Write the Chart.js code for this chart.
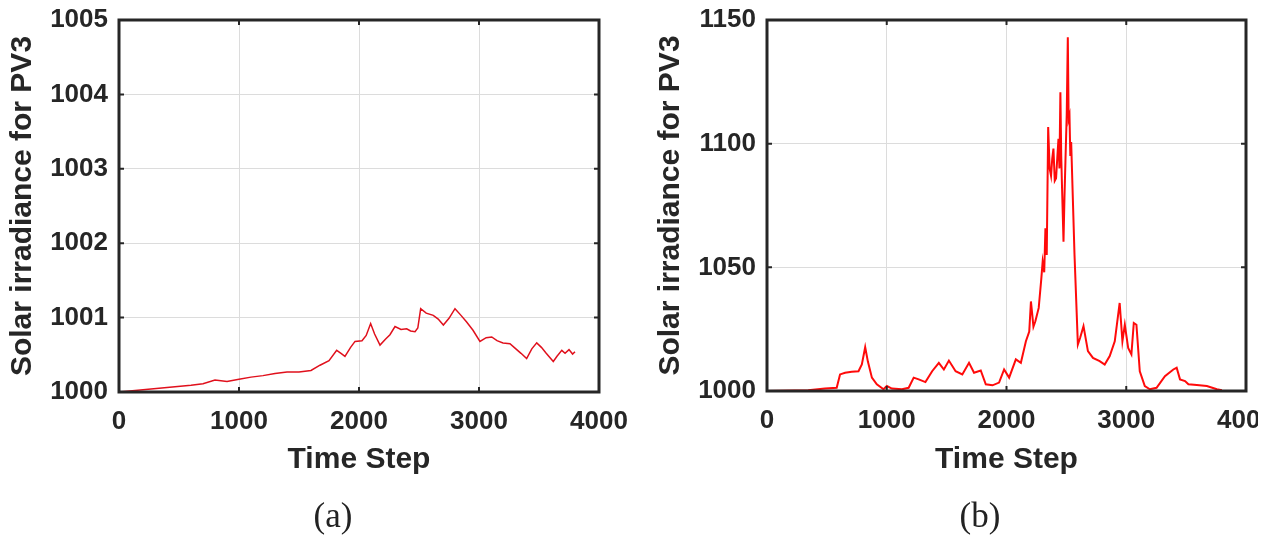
<!DOCTYPE html>
<html>
<head>
<meta charset="utf-8">
<script src="https://cdn.jsdelivr.net/npm/chart.js@4.4.0/dist/chart.umd.min.js"></script>
<style>
  html, body { margin:0; padding:0; background:#fff; }
  body { width:1279px; height:541px; position:relative; overflow:hidden; }
  .panel { position:absolute; top:0; height:541px; overflow:hidden; }
  #panelA { left:0; width:640px; }
  #panelB { left:640px; width:618px; }
  .panel canvas { position:absolute; left:0; top:0; }
  .caption {
    position:absolute; top:498px; line-height:35px;
    font-family:"Liberation Serif", "DejaVu Serif", serif; font-size:35px; color:#222;
    transform:translateX(-50%);
  }
</style>
</head>
<body>
<div class="panel" id="panelA"><canvas id="chartA" width="640" height="541"></canvas></div>
<div class="panel" id="panelB"><canvas id="chartB" width="680" height="541"></canvas></div>
<div class="caption" style="left:333px">(a)</div>
<div class="caption" style="left:980px">(b)</div>

<script>
// ---- data -------------------------------------------------------------
const xTicks  = [0, 1000, 2000, 3000, 4000];
const yTicksA = [1000, 1001, 1002, 1003, 1004, 1005];
const yTicksB = [1000, 1050, 1100, 1150];

// (a) slow drift of irradiance
const timeA = [0, 200, 400, 600, 700, 800, 900, 1000, 1100, 1200, 1300, 1400, 1500, 1600,
  1675, 1750, 1814, 1850, 1883, 1930, 1967, 2025, 2060, 2097, 2130, 2175, 2220, 2258, 2300,
  2350, 2397, 2430, 2467, 2490, 2514, 2560, 2619, 2660, 2703, 2750, 2800, 2850, 2897, 2950,
  3008, 3060, 3106, 3150, 3200, 3258, 3300, 3350, 3397, 3440, 3481, 3520, 3560, 3619, 3650,
  3690, 3717, 3750, 3780, 3800];
const irrA = [1000.00, 1000.03, 1000.06, 1000.09, 1000.11, 1000.16, 1000.14, 1000.17, 1000.20,
  1000.22, 1000.25, 1000.27, 1000.27, 1000.29, 1000.36, 1000.42, 1000.56, 1000.52, 1000.48,
  1000.60, 1000.68, 1000.69, 1000.76, 1000.92, 1000.78, 1000.63, 1000.71, 1000.77, 1000.88,
  1000.84, 1000.85, 1000.82, 1000.81, 1000.86, 1001.12, 1001.06, 1001.03, 1000.98, 1000.90,
  1000.99, 1001.12, 1001.03, 1000.94, 1000.83, 1000.68, 1000.73, 1000.74, 1000.69, 1000.66,
  1000.65, 1000.59, 1000.52, 1000.45, 1000.58, 1000.66, 1000.60, 1000.52, 1000.41, 1000.48,
  1000.56, 1000.52, 1000.57, 1000.51, 1000.54];

// (b) irradiance with a burst around step 2500
const timeB = [0, 344, 484, 582, 610, 652, 708, 764, 792, 820,
  842, 876, 917, 973, 1001, 1043, 1127, 1183, 1225, 1267,
  1323, 1379, 1435, 1477, 1519, 1575, 1631, 1687, 1729, 1785,
  1827, 1883, 1938, 1980, 2022, 2078, 2120, 2162, 2190, 2204,
  2225, 2241, 2269, 2290, 2302, 2315, 2325, 2336, 2348, 2360,
  2372, 2382, 2392, 2403, 2414, 2425, 2434, 2442, 2450, 2457,
  2464, 2476, 2484, 2492, 2503, 2512, 2519, 2526, 2533, 2540,
  2568, 2596, 2615, 2643, 2680, 2722, 2778, 2820, 2862, 2904,
  2945, 2968, 2988, 3016, 3043, 3063, 3085, 3113, 3155, 3197,
  3253, 3323, 3393, 3421, 3449, 3491, 3519, 3589, 3673, 3757, 3799];
const irrB = [1000, 1000.3, 1001, 1001.3, 1006.7, 1007.4, 1007.8, 1008, 1010.7, 1017.7,
  1012, 1005.4, 1002.7, 1000.7, 1002, 1001, 1000.7, 1001.3, 1005.4, 1004.7,
  1003.6, 1008, 1011.4, 1008.7, 1012.3, 1008, 1006.7, 1011.4, 1007.4, 1008.3,
  1002.7, 1002.3, 1003.4, 1008.7, 1005.4, 1012.8, 1011.4, 1020.1, 1024, 1036.2,
  1026, 1028.2, 1033.6, 1045, 1052.3, 1048, 1065.8, 1055, 1106.7, 1090,
  1087, 1094, 1098, 1085, 1086, 1095, 1102, 1090, 1120.8, 1095,
  1081.9, 1060.4, 1078, 1092.6, 1112, 1143, 1110, 1111.4, 1095, 1100.7,
  1055, 1018.8, 1021.5, 1026.2, 1016.1, 1013.4, 1012.1, 1010.7, 1014.1, 1020.1,
  1035.6, 1020.1, 1026.8, 1017.4, 1014.8, 1027.5, 1026.8, 1008, 1002, 1000.7,
  1001.3, 1006, 1008.7, 1009.4, 1004.7, 1004, 1002.7, 1002.4, 1002, 1000.7, 1000.3];

// ---- styling ----------------------------------------------------------
const INK  = "#262626";
const GRID = "#dcdcdc";
const FONT = "'Liberation Sans', Arial, sans-serif";

// box around the axes + short inward ticks on every side
const boxFrame = {
  id: "boxFrame",
  afterDraw(chart) {
    const {ctx, chartArea: a, scales: {x, y}} = chart;
    ctx.save();
    ctx.strokeStyle = INK;
    ctx.lineWidth = 2;
    ctx.beginPath();
    x.ticks.forEach(t => {
      const px = x.getPixelForValue(t.value);
      ctx.moveTo(px, a.top);    ctx.lineTo(px, a.top + 5);
      ctx.moveTo(px, a.bottom); ctx.lineTo(px, a.bottom - 5);
    });
    y.ticks.forEach(t => {
      const py = y.getPixelForValue(t.value);
      ctx.moveTo(a.left, py);  ctx.lineTo(a.left + 5, py);
      ctx.moveTo(a.right, py); ctx.lineTo(a.right - 5, py);
    });
    ctx.stroke();
    ctx.lineWidth = 3;
    ctx.strokeRect(a.left, a.top, a.right - a.left, a.bottom - a.top);
    ctx.restore();
  }
};

function makeChart(id, times, values, yTicks, cfg) {
  const pts = times.map((t, i) => ({x: t, y: values[i]}));
  return new Chart(document.getElementById(id), {
    type: "line",
    data: { datasets: [{
      data: pts,
      borderColor: cfg.color,
      borderWidth: cfg.lineWidth,
      pointRadius: 0,
      tension: 0,
    }]},
    options: {
      responsive: false,
      animation: false,
      layout: { padding: { left: 0, top: 20, right: cfg.right, bottom: 0 } },
      plugins: { legend: { display: false }, tooltip: { enabled: false } },
      scales: {
        x: {
          type: "linear", min: xTicks[0], max: xTicks[xTicks.length - 1],
          afterBuildTicks: s => { s.ticks = xTicks.map(v => ({value: v})); },
          afterFit: s => {
            s.height = 541 - cfg.bottom;
            s.paddingLeft = 0; s.paddingRight = 0;   // plot edges come from layout padding
          },
          grid: { color: GRID, lineWidth: 1, drawTicks: false },
          border: { display: false },
          ticks: { color: INK, padding: 14, maxRotation: 0,
                   font: { family: FONT, size: 26, weight: "bold" },
                   callback: v => String(v) },
          title: { display: true, text: "Time Step", color: INK,
                   padding: { top: 0, bottom: 63 },
                   font: { family: FONT, size: 30, weight: "bold" } }
        },
        y: {
          type: "linear", min: yTicks[0], max: yTicks[yTicks.length - 1],
          afterBuildTicks: s => { s.ticks = yTicks.map(v => ({value: v})); },
          afterFit: s => {
            s.width = cfg.left;
            s.paddingTop = 0; s.paddingBottom = 0;
          },
          grid: { color: GRID, lineWidth: 1, drawTicks: false },
          border: { display: false },
          ticks: { color: INK, padding: 11,
                   font: { family: FONT, size: 26, weight: "bold" },
                   callback: v => String(v) },
          title: { display: true, text: "Solar irradiance for PV3", color: INK,
                   padding: { top: cfg.titlePad, bottom: 0 },
                   font: { family: FONT, size: 30, weight: "bold" } }
        }
      }
    },
    plugins: [boxFrame]
  });
}

makeChart("chartA", timeA, irrA, yTicksA,
  { color: "#e0101c", lineWidth: 1.5, left: 119, right: 41, bottom: 392, titlePad: 5 });
makeChart("chartB", timeB, irrB, yTicksB,
  { color: "#ff0a0a", lineWidth: 2, left: 127, right: 74, bottom: 391, titlePad: 13 });
</script>
</body>
</html>
